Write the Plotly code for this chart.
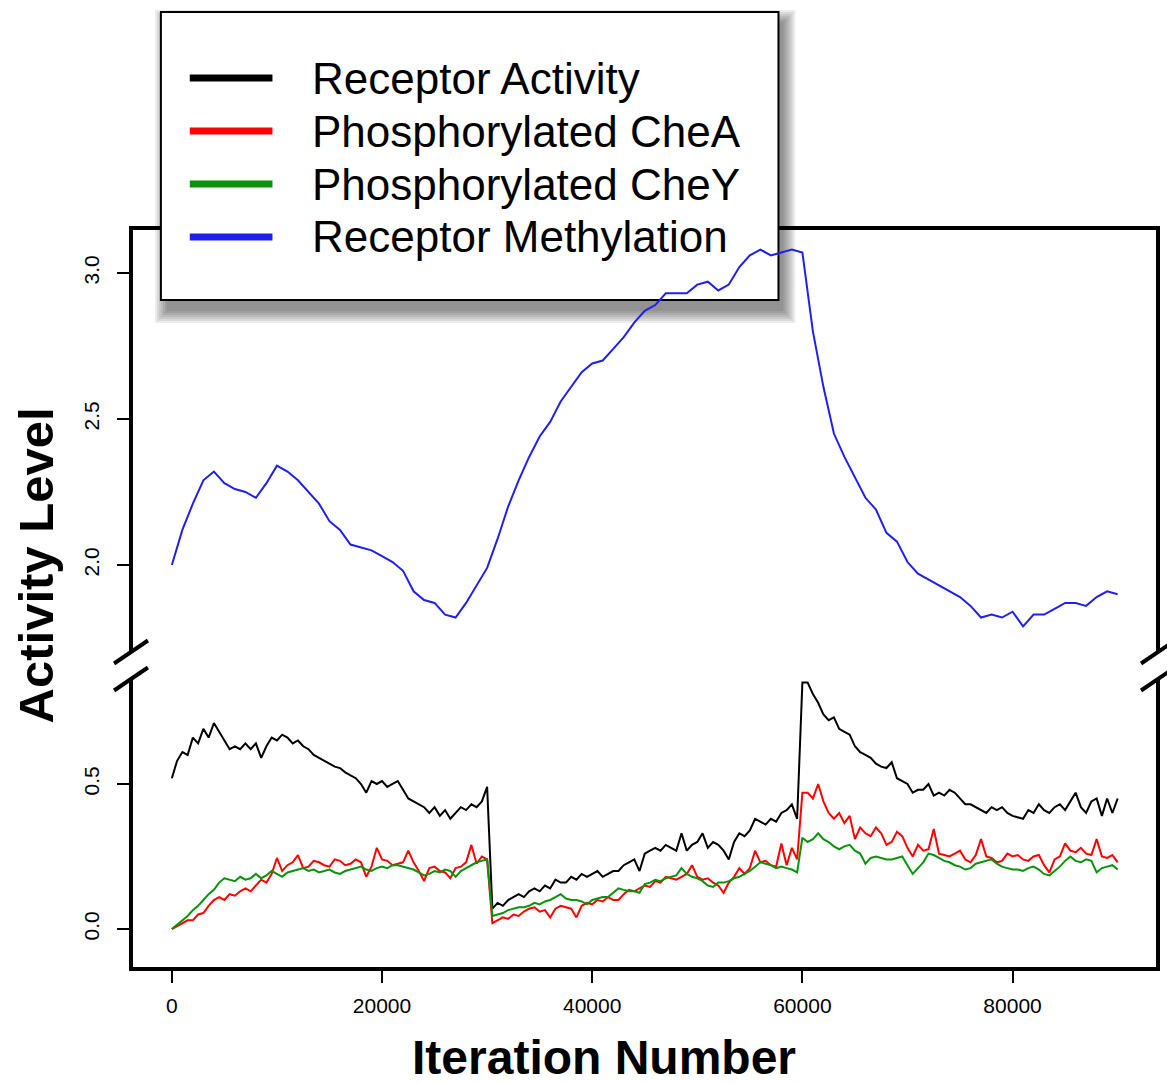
import plotly.graph_objects as go

# ---------------- data ----------------
step_fine = 500      # iterations between samples for activity / CheA / CheY
step_meth = 1000     # iterations between samples for methylation

receptor_activity = [
    0.52, 0.58, 0.61, 0.60, 0.66, 0.64, 0.69, 0.66, 0.71, 0.68,
    0.65, 0.62, 0.63, 0.62, 0.64, 0.62, 0.64, 0.59, 0.63, 0.66,
    0.65, 0.67, 0.66, 0.64, 0.65, 0.63, 0.62, 0.60, 0.59, 0.58,
    0.57, 0.56, 0.555, 0.54, 0.53, 0.52, 0.50, 0.47, 0.51, 0.50,
    0.51, 0.49, 0.50, 0.51, 0.48, 0.45, 0.44, 0.43, 0.42, 0.40,
    0.42, 0.39, 0.41, 0.38, 0.40, 0.42, 0.41, 0.43, 0.42, 0.44,
    0.49, 0.07, 0.09, 0.08, 0.10, 0.11, 0.12, 0.11, 0.13, 0.14,
    0.13, 0.15, 0.14, 0.17, 0.16, 0.16, 0.18, 0.17, 0.19, 0.18,
    0.19, 0.20, 0.18, 0.19, 0.20, 0.20, 0.22, 0.23, 0.24, 0.20,
    0.26, 0.27, 0.28, 0.27, 0.29, 0.28, 0.27, 0.33, 0.27, 0.29,
    0.30, 0.33, 0.28, 0.30, 0.29, 0.27, 0.24, 0.30, 0.33, 0.32,
    0.34, 0.38, 0.37, 0.36, 0.38, 0.37, 0.40, 0.41, 0.43, 0.38,
    0.85, 0.85, 0.81, 0.78, 0.74, 0.72, 0.73, 0.69, 0.68, 0.67,
    0.63, 0.61, 0.60, 0.59, 0.57, 0.56, 0.555, 0.575, 0.52, 0.51,
    0.50, 0.47, 0.48, 0.48, 0.50, 0.46, 0.47, 0.46, 0.48, 0.47,
    0.45, 0.43, 0.43, 0.42, 0.41, 0.40, 0.42, 0.41, 0.42, 0.40,
    0.39, 0.385, 0.38, 0.41, 0.40, 0.43, 0.41, 0.40, 0.42, 0.43,
    0.41, 0.44, 0.47, 0.42, 0.40, 0.44, 0.45, 0.39, 0.45, 0.40,
    0.45,
]

phospho_chea = [
    0.00, 0.01, 0.02, 0.03, 0.03, 0.05, 0.055, 0.08, 0.10, 0.11,
    0.10, 0.12, 0.115, 0.13, 0.14, 0.13, 0.15, 0.17, 0.16, 0.19,
    0.245, 0.20, 0.22, 0.23, 0.255, 0.21, 0.215, 0.235, 0.23, 0.22,
    0.215, 0.24, 0.235, 0.22, 0.225, 0.24, 0.23, 0.18, 0.215, 0.28,
    0.24, 0.235, 0.22, 0.225, 0.23, 0.27, 0.23, 0.20, 0.165, 0.21,
    0.215, 0.20, 0.195, 0.175, 0.21, 0.215, 0.23, 0.29, 0.225, 0.25,
    0.24, 0.02, 0.03, 0.04, 0.035, 0.05, 0.045, 0.06, 0.07, 0.075,
    0.06, 0.065, 0.04, 0.07, 0.08, 0.075, 0.07, 0.04, 0.08, 0.09,
    0.085, 0.10, 0.095, 0.11, 0.10, 0.10, 0.12, 0.135, 0.13, 0.14,
    0.15, 0.145, 0.165, 0.16, 0.18, 0.175, 0.17, 0.18, 0.19, 0.22,
    0.18, 0.17, 0.175, 0.16, 0.15, 0.125, 0.16, 0.18, 0.21, 0.19,
    0.21, 0.27, 0.23, 0.235, 0.22, 0.215, 0.295, 0.22, 0.28, 0.24,
    0.47, 0.47, 0.45, 0.50, 0.44, 0.40, 0.38, 0.40, 0.365, 0.39,
    0.31, 0.35, 0.33, 0.32, 0.35, 0.33, 0.29, 0.30, 0.335, 0.32,
    0.28, 0.25, 0.29, 0.27, 0.275, 0.345, 0.26, 0.255, 0.25, 0.26,
    0.27, 0.24, 0.23, 0.255, 0.31, 0.25, 0.245, 0.23, 0.235, 0.26,
    0.25, 0.255, 0.24, 0.235, 0.25, 0.255, 0.22, 0.195, 0.24, 0.25,
    0.295, 0.27, 0.265, 0.28, 0.26, 0.255, 0.31, 0.25, 0.245, 0.255,
    0.23,
]

phospho_chey = [
    0.00, 0.015, 0.03, 0.045, 0.065, 0.08, 0.10, 0.12, 0.135, 0.16,
    0.175, 0.17, 0.165, 0.18, 0.17, 0.175, 0.19, 0.175, 0.185, 0.20,
    0.19, 0.18, 0.195, 0.20, 0.205, 0.21, 0.20, 0.205, 0.195, 0.20,
    0.205, 0.195, 0.19, 0.20, 0.205, 0.21, 0.215, 0.205, 0.20, 0.21,
    0.215, 0.21, 0.22, 0.22, 0.215, 0.21, 0.205, 0.195, 0.185, 0.19,
    0.20, 0.195, 0.205, 0.20, 0.18, 0.20, 0.21, 0.22, 0.23, 0.235,
    0.24, 0.045, 0.05, 0.055, 0.065, 0.07, 0.075, 0.075, 0.08, 0.09,
    0.085, 0.095, 0.10, 0.11, 0.12, 0.105, 0.10, 0.10, 0.095, 0.085,
    0.10, 0.105, 0.11, 0.11, 0.125, 0.14, 0.135, 0.13, 0.13, 0.125,
    0.155, 0.16, 0.17, 0.165, 0.175, 0.18, 0.185, 0.21, 0.19, 0.18,
    0.175, 0.165, 0.15, 0.145, 0.16, 0.16, 0.165, 0.175, 0.18, 0.19,
    0.20, 0.215, 0.23, 0.225, 0.22, 0.21, 0.215, 0.21, 0.205, 0.195,
    0.315, 0.30, 0.31, 0.33, 0.31, 0.30, 0.285, 0.275, 0.285, 0.29,
    0.27, 0.26, 0.225, 0.245, 0.25, 0.245, 0.24, 0.24, 0.245, 0.25,
    0.22, 0.19, 0.21, 0.23, 0.26, 0.255, 0.245, 0.235, 0.23, 0.22,
    0.215, 0.205, 0.21, 0.225, 0.23, 0.235, 0.24, 0.225, 0.215, 0.21,
    0.205, 0.205, 0.20, 0.21, 0.215, 0.205, 0.19, 0.185, 0.20, 0.215,
    0.235, 0.25, 0.235, 0.23, 0.24, 0.235, 0.195, 0.21, 0.215, 0.22,
    0.205,
]

receptor_methylation = [
    2.00, 2.12, 2.21, 2.29, 2.32, 2.28, 2.26, 2.25, 2.23, 2.28,
    2.34, 2.32, 2.29, 2.25, 2.21, 2.15, 2.12, 2.07, 2.06, 2.05,
    2.03, 2.01, 1.98, 1.91, 1.88, 1.87, 1.83, 1.82, 1.87, 1.93,
    1.99, 2.09, 2.20, 2.29, 2.37, 2.44, 2.49, 2.56, 2.61, 2.66,
    2.69, 2.70, 2.74, 2.78, 2.83, 2.87, 2.89, 2.93, 2.93, 2.93,
    2.96, 2.97, 2.94, 2.96, 3.02, 3.06, 3.08, 3.06, 3.07, 3.08,
    3.07, 2.80, 2.61, 2.45, 2.37, 2.30, 2.23, 2.19, 2.11, 2.08,
    2.01, 1.97, 1.95, 1.93, 1.91, 1.89, 1.86, 1.82, 1.83, 1.82,
    1.84, 1.79, 1.83, 1.83, 1.85, 1.87, 1.87, 1.86, 1.89, 1.91,
    1.90,
]

series_names = ["Receptor Activity", "Phosphorylated CheA",
                "Phosphorylated CheY", "Receptor Methylation"]
series_colors = ["#000000", "#ff0000", "#0a920a", "#2020ee"]

x_tick_values = [0, 20000, 40000, 60000, 80000]
x_tick_labels = ["0", "20000", "40000", "60000", "80000"]
y_low_ticks = [0.0, 0.5]
y_high_ticks = [2.0, 2.5, 3.0]

iter_fine = [i * step_fine for i in range(len(receptor_activity))]
iter_fine_a = [i * step_fine for i in range(len(phospho_chea))]
iter_fine_y = [i * step_fine for i in range(len(phospho_chey))]
iter_meth = [i * step_meth for i in range(len(receptor_methylation))]

# ---------------- layout helpers (pixel -> paper) ----------------
W, H = 1167, 1084
L, R, T, B = 133, 1160, 230, 967


def px(x):
    return (x - L) / (R - L)


def py(y):
    return (B - y) / (B - T)


LOW_TOP = 679     # pixel where lower panel ends (break)
HIGH_BOT = 652    # pixel where upper panel starts (break)

tick_font = dict(family="Liberation Sans Narrow, Arial Narrow, Liberation Sans, Arial",
                 size=21, color="black")
sans = "Liberation Sans, Arial, Helvetica, sans-serif"

fig = go.Figure()
fig.add_trace(go.Scatter(x=iter_fine, y=receptor_activity, mode="lines",
                         name=series_names[0], line=dict(color=series_colors[0], width=2),
                         xaxis="x", yaxis="y"))
fig.add_trace(go.Scatter(x=iter_fine_a, y=phospho_chea, mode="lines",
                         name=series_names[1], line=dict(color=series_colors[1], width=2),
                         xaxis="x", yaxis="y"))
fig.add_trace(go.Scatter(x=iter_fine_y, y=phospho_chey, mode="lines",
                         name=series_names[2], line=dict(color=series_colors[2], width=2),
                         xaxis="x", yaxis="y"))
fig.add_trace(go.Scatter(x=iter_meth, y=receptor_methylation, mode="lines",
                         name=series_names[3], line=dict(color=series_colors[3], width=2),
                         xaxis="x2", yaxis="y2"))

xr = [-3697, 93649]
common_y = dict(showline=True, linewidth=4, linecolor="black", mirror=True,
                ticks="outside", ticklen=12, tickwidth=1.5, tickcolor="black",
                tickformat=".1f", tickangle=-90, tickfont=tick_font,
                ticklabelstandoff=10, showgrid=False, zeroline=False)

fig.update_layout(
    width=W, height=H,
    margin=dict(l=L, r=W - R, t=T, b=H - B, pad=0),
    paper_bgcolor="white", plot_bgcolor="white",
    showlegend=False,
    xaxis=dict(domain=[0, 1], range=xr, anchor="y", showline=True, linewidth=4,
               linecolor="black", mirror=False, ticks="outside", ticklen=12,
               tickwidth=1.5, tickcolor="black", tickvals=x_tick_values,
               ticktext=x_tick_labels, tickfont=tick_font, ticklabelstandoff=5,
               showgrid=False, zeroline=False),
    xaxis2=dict(domain=[0, 1], range=xr, anchor="y2", matches="x", showline=False,
                showticklabels=False, ticks="", showgrid=False, zeroline=False),
    yaxis=dict(domain=[0, py(LOW_TOP)], range=[-0.131, 0.862], anchor="x",
               tickvals=y_low_ticks, **common_y),
    yaxis2=dict(domain=[py(HIGH_BOT), 1], range=[1.702, 3.147], anchor="x2",
                tickvals=y_high_ticks, **common_y),
)

shapes = []
# top frame line (drawn as shape so the legend box can cover it)
shapes.append(dict(type="line", xref="paper", yref="paper", layer="below",
                   x0=px(129), x1=px(1164), y0=py(228), y1=py(228),
                   line=dict(color="black", width=4)))

# axis break slashes
for cx in (131, 1162):
    for cy in (HIGH_BOT, LOW_TOP):
        shapes.append(dict(type="line", xref="paper", yref="paper", layer="above",
                           x0=px(cx - 17), y0=py(cy + 11.5), x1=px(cx + 17), y1=py(cy - 11.5),
                           line=dict(color="black", width=4)))

# legend shadow + box
BX0, BY0, BX1, BY1 = 161, 12, 781, 300
for r in range(12, -1, -2):
    shapes.append(dict(type="rect", xref="paper", yref="paper", layer="below",
                       x0=px(BX0 + 6 - r), x1=px(BX1 + 5 + r),
                       y0=py(BY0 + 10 - r), y1=py(BY1 + 11 + r),
                       line=dict(width=0), fillcolor="rgba(0,0,0,0.075)"))
shapes.append(dict(type="rect", xref="paper", yref="paper", layer="below",
                   x0=px(BX0), x1=px(BX1), y0=py(BY0), y1=py(BY1),
                   line=dict(color="black", width=2), fillcolor="white"))

rows_y = [78, 131, 184, 237]
annotations = []
for name, color, ry in zip(series_names, series_colors, rows_y):
    shapes.append(dict(type="line", xref="paper", yref="paper", layer="below",
                       x0=px(190), x1=px(273), y0=py(ry), y1=py(ry),
                       line=dict(color=color, width=7)))
    annotations.append(dict(text=name, xref="paper", yref="paper", x=px(311), y=py(ry),
                            xanchor="left", yanchor="middle", showarrow=False,
                            font=dict(family=sans, size=44, color="black")))

annotations.append(dict(text="Iteration Number", xref="paper", yref="paper",
                        x=px(606), y=py(1057), xanchor="center", yanchor="middle",
                        showarrow=False,
                        font=dict(family=sans, size=48, color="black", weight="bold")))
annotations.append(dict(text="Activity Level", xref="paper", yref="paper",
                        x=px(36), y=py(565), xanchor="center", yanchor="middle",
                        textangle=-90, showarrow=False,
                        font=dict(family=sans, size=49, color="black", weight="bold")))

fig.update_layout(shapes=shapes, annotations=annotations)

fig.write_html("out.html")
